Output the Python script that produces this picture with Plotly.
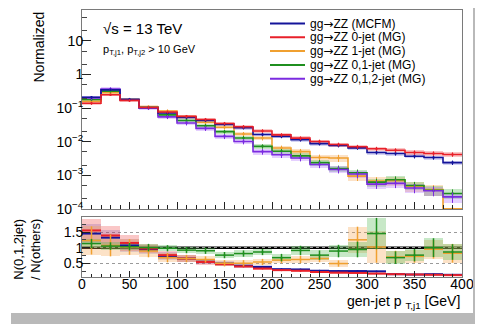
import plotly.graph_objects as go

# ---------------- data ----------------
edges = [0, 20, 40, 60, 80, 100, 120, 140, 160, 180, 200, 220, 240, 260, 280, 300, 320, 340, 360, 380, 400]
centers = [10, 30, 50, 70, 90, 110, 130, 150, 170, 190, 210, 230, 250, 270, 290, 310, 330, 350, 370, 390]

ARROW = "<span style='font-family:DejaVu Sans'>\u2192</span>"
names = ["gg" + ARROW + "ZZ (MCFM)", "gg" + ARROW + "ZZ 0-jet (MG)", "gg" + ARROW + "ZZ 1-jet (MG)",
         "gg" + ARROW + "ZZ 0,1-jet (MG)", "gg" + ARROW + "ZZ 0,1,2-jet (MG)"]

mcfm = [0.21, 0.35, 0.18, 0.105, 0.072, 0.053, 0.043, 0.033, 0.026, 0.0165, 0.0145, 0.0115, 0.0088, 0.0078, 0.0066, 0.0048, 0.0045, 0.0037, 0.0034, 0.0024]
mg0j = [0.14, 0.25, 0.17, 0.105, 0.077, 0.057, 0.046, 0.035, 0.028, 0.021, 0.016, 0.0128, 0.0102, 0.0083, 0.0071, 0.0062, 0.0056, 0.0048, 0.0045, 0.0042]
mg1j = [0.16, 0.29, 0.18, 0.11, 0.082, 0.055, 0.038, 0.027, 0.017, 0.013, 0.0065, 0.0051, 0.0034, 0.0033, 0.00095, 0.00068, 0.0007, 0.00048, 0.00038, 0.000102]
mg01j = [0.18, 0.32, 0.18, 0.105, 0.063, 0.043, 0.03, 0.02, 0.013, 0.0073, 0.0052, 0.0038, 0.0024, 0.0016, 0.0012, 0.00063, 0.00074, 0.0005, 0.00036, 0.00029]
mg012j = [0.2, 0.37, 0.18, 0.1, 0.055, 0.036, 0.025, 0.0145, 0.0102, 0.0051, 0.0041, 0.0033, 0.0021, 0.0015, 0.0011, 0.00055, 0.00058, 0.00042, 0.00035, 0.00023]

err_mcfm = [0.08, 0.07, 0.07, 0.08, 0.09, 0.09, 0.10, 0.10, 0.11, 0.11, 0.12, 0.12, 0.12, 0.13, 0.13, 0.13, 0.14, 0.14, 0.14, 0.15]
err_0j = [0.10, 0.08, 0.08, 0.09, 0.10, 0.10, 0.11, 0.11, 0.12, 0.12, 0.12, 0.13, 0.13, 0.13, 0.14, 0.14, 0.14, 0.15, 0.15, 0.15]
err_1j = [0.12, 0.10, 0.10, 0.10, 0.11, 0.12, 0.13, 0.14, 0.15, 0.16, 0.18, 0.20, 0.22, 0.24, 0.28, 0.30, 0.30, 0.32, 0.34, 0.05]
err_01j = [0.10, 0.08, 0.08, 0.09, 0.10, 0.11, 0.12, 0.13, 0.14, 0.15, 0.17, 0.18, 0.20, 0.22, 0.24, 0.26, 0.26, 0.28, 0.30, 0.32]
err_012j = [0.14, 0.12, 0.12, 0.12, 0.14, 0.15, 0.16, 0.17, 0.18, 0.19, 0.20, 0.21, 0.22, 0.24, 0.26, 0.28, 0.28, 0.30, 0.32, 0.34]

# ratio N(0,1,2-jet) / N(other)
r_mcfm = [1.45, 1.32, 1.07, 0.94, 0.73, 0.65, 0.55, 0.49, 0.42, 0.38, 0.31, 0.30, 0.26, 0.25, 0.25, 0.24, 0.15, 0.14, 0.15, 0.13]
r_0j = [1.55, 1.39, 1.15, 0.97, 0.76, 0.65, 0.54, 0.47, 0.40, 0.33, 0.28, 0.26, 0.22, 0.20, 0.19, 0.17, 0.15, 0.14, 0.13, 0.12]
r_1j = [1.23, 1.07, 1.02, 0.89, 0.68, 0.65, 0.62, 0.50, 0.50, 0.54, 0.60, 0.62, 0.65, 0.49, 1.25, 1.02, 0.70, 0.72, 0.95, 0.82]
r_01j = [1.13, 1.05, 1.03, 1.0, 0.98, 0.92, 0.90, 0.76, 0.81, 0.86, 0.68, 0.91, 0.76, 0.89, 0.94, 1.45, 0.68, 0.76, 1.0, 0.86]

re_mcfm = [0.30, 0.25, 0.20, 0.15, 0.12, 0.10, 0.08, 0.07, 0.06, 0.05, 0.04, 0.04, 0.03, 0.03, 0.03, 0.03, 0.02, 0.02, 0.02, 0.02]
re_0j = [0.38, 0.30, 0.25, 0.15, 0.12, 0.10, 0.08, 0.07, 0.06, 0.05, 0.04, 0.04, 0.03, 0.03, 0.03, 0.03, 0.02, 0.02, 0.02, 0.02]
re_1j = [0.45, 0.35, 0.25, 0.20, 0.15, 0.12, 0.10, 0.10, 0.10, 0.10, 0.10, 0.12, 0.12, 0.10, 0.42, 0.50, 0.20, 0.20, 0.30, 0.30]
re_01j = [0.15, 0.12, 0.12, 0.12, 0.10, 0.10, 0.10, 0.10, 0.10, 0.10, 0.12, 0.15, 0.15, 0.20, 0.25, 0.50, 0.20, 0.20, 0.30, 0.25]

yticks_top = [1e-4, 1e-3, 1e-2, 1e-1, 1, 10]
yticklabels_top = ["10<sup>\u22124</sup>", "10<sup>\u22123</sup>", "10<sup>\u22122</sup>", "10<sup>\u22121</sup>", "1", "10"]
xticks = [0, 50, 100, 150, 200, 250, 300, 350, 400]
yticks_ratio = [0.5, 1, 1.5]
yticklabels_ratio = ["0.5", "1", "1.5"]

# ---------------- styles ----------------
line_cols = ["#14149a", "#e8202a", "#f0a030", "#1f8f1f", "#7b2be0"]
band_cols = ["rgba(60,60,200,0.22)", "rgba(240,70,70,0.30)", "rgba(245,165,80,0.32)",
             "rgba(80,185,80,0.32)", "rgba(175,110,255,0.32)"]
FONT = "Liberation Sans, Arial, sans-serif"

# page body has an 8 px margin: figure is placed at (8, 8) in the window
OFF = 8
WIN_W, WIN_H = 483, 324
W, H = WIN_W - OFF, WIN_H - OFF
PL, PR, PT, PB = 82, 462, 10, 277          # plot area in window pixels
L, R, T, B = PL - OFF, WIN_W - PR, PT - OFF, WIN_H - PB
PW, PH = PR - PL, PB - PT


def px(x):
    return (x - PL) / PW


def py(y):
    return (PB - y) / PH


fig = go.Figure()

series = [mcfm, mg0j, mg1j, mg01j, mg012j]
errs = [err_mcfm, err_0j, err_1j, err_01j, err_012j]

# ---------- top panel: bands ----------
for vals, e, bc in zip(series, errs, band_cols):
    lo = [v * (1 - r) for v, r in zip(vals, e)]
    hi = [v * (1 + r) for v, r in zip(vals, e)]
    fig.add_trace(go.Bar(x=centers, base=lo, y=[h - l for h, l in zip(hi, lo)], width=20,
                         marker=dict(color=bc, line=dict(width=0)), showlegend=False,
                         hoverinfo="skip", xaxis="x", yaxis="y"))

# ---------- top panel: step lines + points ----------
order = [2, 3, 4, 0, 1]
for i in order:
    vals = series[i]
    fig.add_trace(go.Scatter(x=edges, y=vals + [vals[-1]], mode="lines", line_shape="hv",
                             line=dict(color=line_cols[i], width=1.6), name=names[i],
                             showlegend=False, cliponaxis=False, xaxis="x", yaxis="y"))
for i in order:
    vals = series[i]
    fig.add_trace(go.Scatter(x=centers, y=vals, mode="markers",
                             marker=dict(color=line_cols[i], size=2.5),
                             error_y=dict(type="data", array=[v * r for v, r in zip(vals, errs[i])],
                                          color=line_cols[i], thickness=1, width=0),
                             showlegend=False, xaxis="x", yaxis="y"))

# ---------- ratio panel ----------
ratios = [r_mcfm, r_0j, r_1j, r_01j]
rerrs = [re_mcfm, re_0j, re_1j, re_01j]
for vals, e, bc in zip(ratios, rerrs, band_cols[:4]):
    fig.add_trace(go.Bar(x=centers, base=[v - r for v, r in zip(vals, e)], y=[2 * r for r in e],
                         width=20, marker=dict(color=bc, line=dict(width=0)), showlegend=False,
                         hoverinfo="skip", xaxis="x2", yaxis="y2"))
for i, (vals, e) in enumerate(zip(ratios, rerrs)):
    thick = 2 if i < 2 else 1.5
    fig.add_trace(go.Scatter(x=centers, y=vals, mode="markers",
                             marker=dict(color=line_cols[i], size=2),
                             error_x=dict(type="constant", value=10, color=line_cols[i], thickness=thick, width=0),
                             error_y=dict(type="data", array=e if i >= 2 else [0] * len(e),
                                          color=line_cols[i], thickness=1.5, width=0),
                             showlegend=False, xaxis="x2", yaxis="y2"))

axcol = "#7a7a7a"
tickfont = dict(family=FONT, size=14, color="#000")

fig.update_layout(
    width=W, height=H, margin=dict(l=L, r=R, t=T, b=B),
    paper_bgcolor="white", plot_bgcolor="white", barmode="overlay", bargap=0,
    showlegend=False,
    xaxis=dict(domain=[0, 1], anchor="y", range=[0, 400], showticklabels=False,
               tickvals=xticks, ticks="inside", ticklen=7, tickcolor="#222",
               minor=dict(dtick=10, ticks="inside", ticklen=4, tickcolor="#222", showgrid=False),
               showline=True, linecolor=axcol, mirror=True, showgrid=False, zeroline=False),
    yaxis=dict(domain=[py(209), 1], anchor="x", type="log", range=[-4, 1.92],
               tickvals=yticks_top, ticktext=yticklabels_top, tickfont=tickfont,
               ticks="inside", ticklen=9, tickcolor="#222", ticklabelstandoff=-5,
               minor=dict(ticks="inside", ticklen=5, tickcolor="#444", showgrid=False),
               showline=True, linecolor=axcol, mirror=True, showgrid=False, zeroline=False),
    xaxis2=dict(domain=[0, 1], anchor="y2", range=[0, 400], tickvals=xticks, tickfont=tickfont,
                ticks="inside", ticklen=6, tickcolor="#222", ticklabelstandoff=-6,
                minor=dict(dtick=10, ticks="inside", ticklen=3, tickcolor="#222", showgrid=False),
                showline=True, linecolor=axcol, mirror=True, showgrid=False, zeroline=False),
    yaxis2=dict(domain=[0, py(217)], anchor="x2", range=[0.06, 1.98],
                tickvals=yticks_ratio, ticktext=yticklabels_ratio, tickfont=tickfont,
                ticks="inside", ticklen=8, tickcolor="#222", ticklabelstandoff=-5,
                minor=dict(dtick=0.25, ticks="inside", ticklen=4, tickcolor="#444", showgrid=False),
                showline=True, linecolor=axcol, mirror=True,
                showgrid=True, gridcolor="#9a9a9a", griddash="dot", gridwidth=1, zeroline=False),
)

# reference line at ratio 1
fig.add_shape(type="line", xref="x2", yref="y2", x0=0, x1=400, y0=1, y1=1,
              line=dict(color="black", width=2.5), layer="below")

# axis titles
fig.add_annotation(text="Normalized", x=px(38), y=1, xref="paper", yref="paper",
                   xanchor="center", yanchor="top", textangle=-90, showarrow=False,
                   font=dict(family=FONT, size=14, color="#000"))
fig.add_annotation(text="N(0,1,2jet)<br>/ N(others)", x=px(27), y=py(250), xref="paper", yref="paper",
                   xanchor="center", yanchor="middle", textangle=-90, showarrow=False,
                   font=dict(family=FONT, size=13, color="#000"))
fig.add_annotation(text="gen-jet p <sub>T,j1</sub> [GeV]", x=px(462), y=py(302), xref="paper", yref="paper",
                   xanchor="right", yanchor="middle", showarrow=False,
                   font=dict(family=FONT, size=14, color="#000"))

# labels inside the plot
fig.add_annotation(text="\u221As = 13 TeV", x=px(101), y=py(29), xref="paper", yref="paper",
                   xanchor="left", yanchor="middle", showarrow=False,
                   font=dict(family=FONT, size=15, color="#000"))
fig.add_annotation(text="p<sub>T,j1</sub>, p<sub>T,j2</sub> > 10 GeV", x=px(101), y=py(50), xref="paper", yref="paper",
                   xanchor="left", yanchor="middle", showarrow=False,
                   font=dict(family=FONT, size=11, color="#000"))

# legend
for k in range(5):
    yk = 23.5 + 13.8 * k
    fig.add_shape(type="line", xref="paper", yref="paper", x0=px(270), x1=px(305), y0=py(yk), y1=py(yk),
                  line=dict(color=line_cols[k], width=2))
    fig.add_annotation(text=names[k], x=px(308), y=py(yk), xref="paper", yref="paper",
                       xanchor="left", yanchor="middle", showarrow=False,
                       font=dict(family=FONT, size=12, color="#000"))

# grey screenshot border
fig.add_shape(type="rect", xref="paper", yref="paper", x0=px(473), x1=px(484), y0=py(325), y1=py(-1),
              line=dict(width=0), fillcolor="#b9b9b9", layer="above")
fig.add_shape(type="rect", xref="paper", yref="paper", x0=px(11), x1=px(484), y0=py(325), y1=py(313),
              line=dict(width=0), fillcolor="#b9b9b9", layer="above")

fig.write_html("out.html")
